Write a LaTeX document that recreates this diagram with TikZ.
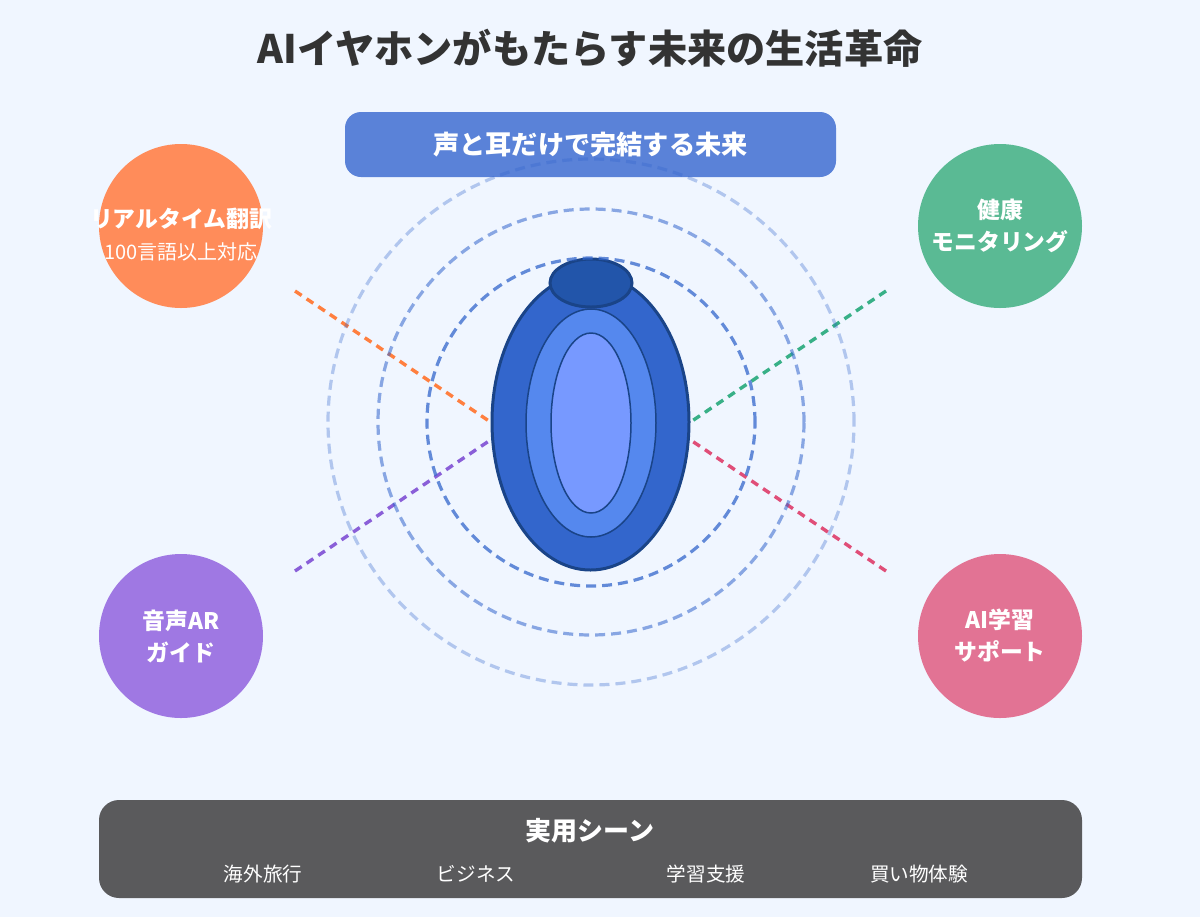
\documentclass[tikz,border=0pt]{standalone}
\usepackage{fontspec}
\usepackage{xcolor}
\usepackage{tikz}
\usetikzlibrary{shapes.geometric}
\setmainfont{Noto Sans CJK JP}

\definecolor{paper}{HTML}{F0F6FF}
\definecolor{titleink}{HTML}{333333}
\definecolor{banner}{HTML}{5A82D8}
\definecolor{panel}{HTML}{5A5A5C}
\definecolor{orangeC}{HTML}{FF8C5A}
\definecolor{greenC}{HTML}{5ABA94}
\definecolor{purpleC}{HTML}{9F78E3}
\definecolor{pinkC}{HTML}{E27394}
\definecolor{orangeL}{HTML}{FF7F3F}
\definecolor{greenL}{HTML}{38B087}
\definecolor{purpleL}{HTML}{8A5FD8}
\definecolor{pinkL}{HTML}{E04E78}
\definecolor{earO}{HTML}{3366CC}
\definecolor{earM}{HTML}{5588EE}
\definecolor{earI}{HTML}{7799FF}
\definecolor{earD}{HTML}{1A4488}
\definecolor{earT}{HTML}{2255AA}

\tikzset{
  bubble/.style={circle, minimum size=82pt, inner sep=0pt, text=white, align=center, font=\bfseries\fontsize{11.4}{16}\selectfont},
  ring/.style={circle, draw=earO, line width=1.6pt, dash pattern=on 5pt off 3pt, inner sep=0pt},
  link/.style={line width=1.7pt, dash pattern=on 4pt off 3pt},
  scene/.style={text=white, font=\fontsize{9.8}{12}\selectfont},
}

\begin{document}
\begin{tikzpicture}[x=0.5pt, y=-0.5pt]
  \fill[paper] (0,0) rectangle (1200,917);
  \useasboundingbox (0,0) rectangle (1200,917);

  \node[titleink, font=\bfseries\fontsize{19.6}{24}\selectfont] (title) at (590,48) {AIイヤホンがもたらす未来の生活革命};

  \node[fill=banner, rounded corners=8pt, minimum width=245.5pt, minimum height=32.5pt, inner sep=0pt, text=white, font=\bfseries\fontsize{13.1}{16}\selectfont] (slogan) at (590.5,144.5) {声と耳だけで完結する未来};

  % earphone
  \node[ellipse, fill=earO, draw=earD, line width=1.5pt, minimum width=98.5pt, minimum height=148pt, inner sep=0pt] (ear) at (590.5,422) {};
  \node[ellipse, fill=earM, draw=earD, line width=0.75pt, minimum width=65pt, minimum height=114pt, inner sep=0pt] (earmid) at (591,423) {};
  \node[ellipse, fill=earI, draw=earD, line width=0.75pt, minimum width=40pt, minimum height=90pt, inner sep=0pt] (earin) at (591,423) {};
  \node[ellipse, fill=earT, draw=earD, line width=1.5pt, minimum width=41pt, minimum height=24pt, inner sep=0pt] (eartop) at (591,283) {};

  % feature circles
  \node[bubble, fill=orangeC] (translate) at (181,226) {};
  \node[text=white, font=\bfseries\fontsize{11.4}{13}\selectfont] (translatehead) at (181,219) {リアルタイム翻訳};
  \node[text=white, font=\fontsize{10}{12}\selectfont] (translatesub) at (181,252) {100言語以上対応};
  \node[bubble, fill=greenC] (health) at (1000,226) {健康\\モニタリング};
  \node[bubble, fill=purpleC] (guide) at (181,636) {音声AR\\ガイド};
  \node[bubble, fill=pinkC] (study) at (1000,636) {AI学習\\サポート};

  \coordinate (orangefree) at (295,291);
  \coordinate (greenfree) at (886,291);
  \coordinate (purplefree) at (295,571);
  \coordinate (pinkfree) at (886,571);

  \draw
  (orangefree) edge[link, orangeL] (ear.west)
  (greenfree) edge[link, greenL] (ear.east)
  (purplefree) edge[link, purpleL] (ear.190)
  (pinkfree) edge[link, pinkL] (ear.-10);

  % sound rings
  \node[ring, draw opacity=0.33, minimum size=263pt] (ring3) at (591,422) {};
  \node[ring, draw opacity=0.55, minimum size=213pt] (ring2) at (591,422) {};
  \node[ring, draw opacity=0.75, minimum size=164pt] (ring1) at (591,422) {};

  % bottom panel
  \node[fill=panel, rounded corners=10pt, minimum width=491.5pt, minimum height=49pt, inner sep=0pt] (panel) at (590.5,849) {};
  \node[text=white, font=\bfseries\fontsize{13}{16}\selectfont] (scenes) at (590,831) {実用シーン};
  \node[scene] (travel) at (263,874) {海外旅行};
  \node[scene] (business) at (476,874) {ビジネス};
  \node[scene] (learning) at (706,874) {学習支援};
  \node[scene] (shopping) at (919,874) {買い物体験};
\end{tikzpicture}
\end{document}
